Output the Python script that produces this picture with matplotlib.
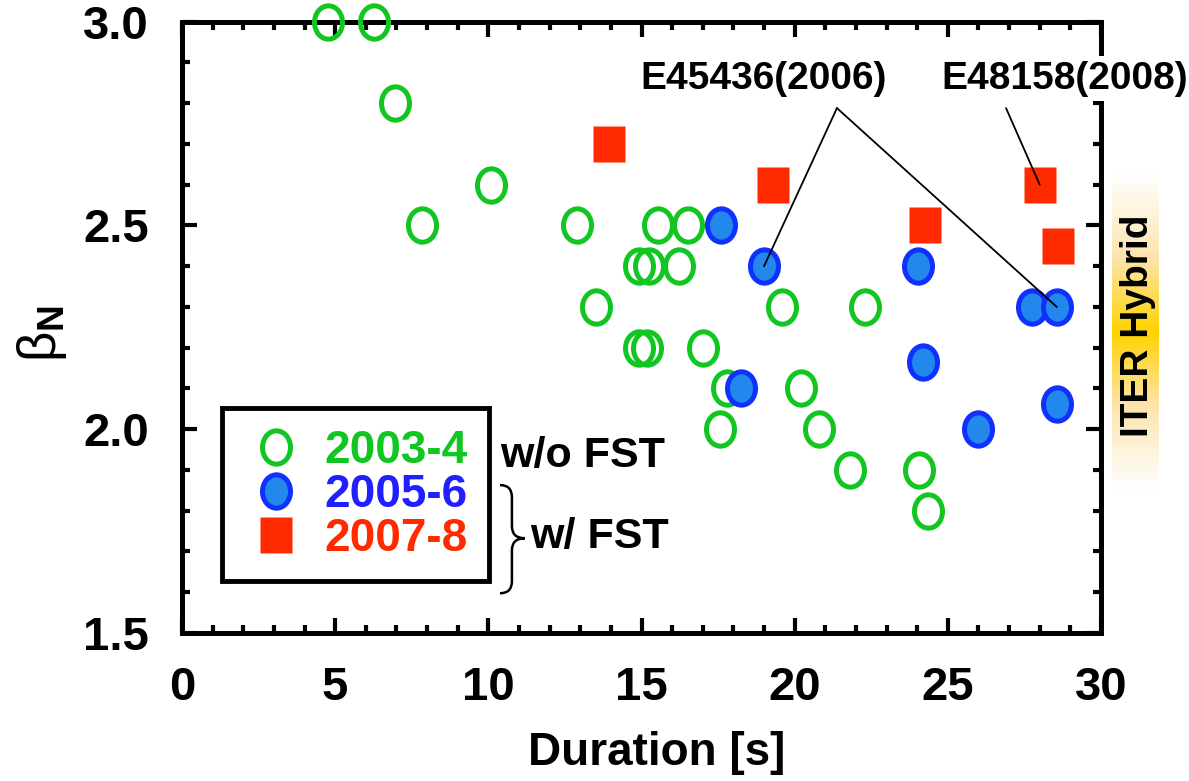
import numpy as np
import matplotlib
matplotlib.use("Agg")
import matplotlib.pyplot as plt
from matplotlib.path import Path
from matplotlib.patches import PathPatch
from matplotlib.lines import Line2D
from matplotlib.colors import LinearSegmentedColormap
from matplotlib.ticker import MultipleLocator, FormatStrFormatter

# data
green_x = [4.76, 6.27, 6.95, 7.84, 10.09, 12.9, 13.5, 14.93, 15.24, 16.22, 15.54, 16.52,
           14.93, 15.18, 17.0, 19.6, 22.3, 17.8, 20.22, 17.57, 20.8, 21.8, 24.06, 24.34]
green_y = [3.0, 3.0, 2.8, 2.5, 2.6, 2.5, 2.3, 2.4, 2.4, 2.4, 2.5, 2.5,
           2.2, 2.2, 2.2, 2.3, 2.3, 2.1, 2.1, 2.0, 2.0, 1.9, 1.9, 1.8]
blue_x = [17.59, 19.0, 24.03, 27.74, 28.56, 24.2, 18.24, 28.57, 26.0]
blue_y = [2.5, 2.4, 2.4, 2.3, 2.3, 2.165, 2.1, 2.062, 2.0]
red_x = [13.95, 19.28, 24.24, 28.0, 28.59]
red_y = [2.7, 2.6, 2.5, 2.6, 2.45]

series_labels = ["2003-4", "2005-6", "2007-8"]
x_ticks = [0, 5, 10, 15, 20, 25, 30]
y_ticks = [1.5, 2.0, 2.5, 3.0]

ann_labels = ["E45436(2006)", "E48158(2008)"]
ann_text_xy = [(18.97, 2.86), (28.83, 2.86)]
ann_apex = [(21.38, 2.788), (26.9, 2.788)]
ann_targets = [[(blue_x[1], blue_y[1]), (blue_x[4], blue_y[4])],
               [(red_x[3], red_y[3])]]

green = "#12c622"
blue_face = "#2288ec"
blue_edge = "#1030ff"
red = "#ff2a00"

plt.rcParams["font.family"] = ["Liberation Sans", "DejaVu Sans"]
plt.rcParams["font.weight"] = "bold"
plt.rcParams["mathtext.fontset"] = "custom"
plt.rcParams["mathtext.rm"] = "Liberation Sans:normal"
plt.rcParams["mathtext.bf"] = "Liberation Sans:bold"

# slightly tall markers, like the original
circ = Path.unit_circle()
ell_path = Path(circ.vertices * np.array([0.84, 1.0]), circ.codes)
sq_path = Path([(-0.88, -1), (0.88, -1), (0.88, 1), (-0.88, 1), (-0.88, -1)],
               [Path.MOVETO, Path.LINETO, Path.LINETO, Path.LINETO, Path.CLOSEPOLY])

fig = plt.figure(figsize=(11.89, 7.81), dpi=100)
ax = fig.add_axes([182 / 1189, 1 - 633 / 781, 919 / 1189, 611.3 / 781])

ms = 24
mew = 3.6
ax.plot(green_x, green_y, linestyle="none", marker=ell_path, ms=ms, mfc="none",
        mec=green, mew=mew, clip_on=False, zorder=3)
ax.plot(blue_x, blue_y, linestyle="none", marker=ell_path, ms=ms, mfc=blue_face,
        mec=blue_edge, mew=mew, clip_on=False, zorder=3.1)
ax.plot(red_x, red_y, linestyle="none", marker=sq_path, ms=ms + 2, mfc=red,
        mec="none", clip_on=False, zorder=3.2)

ax.set_xlim(0, 30)
ax.set_ylim(1.5, 3.0)
ax.set_xticks(x_ticks)
ax.set_yticks(y_ticks)
ax.xaxis.set_minor_locator(MultipleLocator(1))
ax.yaxis.set_minor_locator(MultipleLocator(0.1))
ax.yaxis.set_major_formatter(FormatStrFormatter("%.1f"))
ax.tick_params(which="both", direction="in", top=True, right=True, width=3.0)
ax.tick_params(which="major", length=11, pad=24)
ax.tick_params(which="minor", length=6)
for lab in ax.get_xticklabels() + ax.get_yticklabels():
    lab.set_fontsize(34)
    lab.set_fontweight("bold")
for sp in ax.spines.values():
    sp.set_linewidth(3.6)

ax.set_xlabel("Duration [s]", fontsize=33, fontweight="bold")
ax.xaxis.set_label_coords(0.517, -0.16)
ax.set_ylabel(r"$\mathrm{\beta}_{\mathbf{N}}$", fontsize=38, va="center")
ax.yaxis.set_label_coords(-0.152, 0.49)

# legend
handles = [
    Line2D([], [], linestyle="none", marker=ell_path, ms=ms, mfc="none", mec=green, mew=mew),
    Line2D([], [], linestyle="none", marker=ell_path, ms=ms, mfc=blue_face, mec=blue_edge, mew=mew),
    Line2D([], [], linestyle="none", marker=sq_path, ms=ms + 2, mfc=red, mec="none"),
]
leg = ax.legend(handles, series_labels, loc="upper left", bbox_to_anchor=(0.0435, 0.368),
                borderaxespad=0, fontsize=33, frameon=True, fancybox=False, framealpha=1,
                borderpad=0.45, handlelength=1.44, handletextpad=0.35, labelspacing=0.0)
leg.get_frame().set_edgecolor("black")
leg.get_frame().set_linewidth(3.5)
for txt, col in zip(leg.get_texts(), [green, "#2020ff", red]):
    txt.set_color(col)
    txt.set_fontweight("bold")

# FST notes with brace
ax.text(0.346, 0.2716, "w/o FST", transform=ax.transAxes, fontsize=31,
        fontweight="bold", ha="left", va="baseline")
ax.text(0.3787, 0.139, "w/ FST", transform=ax.transAxes, fontsize=31,
        fontweight="bold", ha="left", va="baseline")
xl, xm, xr = 0.346, 0.359, 0.373
yt, ym, yb = 0.242, 0.155, 0.065
d = 0.02
brace = Path([(xl, yt), (xm, yt), (xm, yt - d), (xm, ym + d), (xm, ym), (xr, ym),
              (xm, ym), (xm, ym - d), (xm, yb + d), (xm, yb), (xl, yb)],
             [Path.MOVETO, Path.CURVE3, Path.CURVE3, Path.LINETO, Path.CURVE3, Path.CURVE3,
              Path.CURVE3, Path.CURVE3, Path.LINETO, Path.CURVE3, Path.CURVE3])
ax.add_patch(PathPatch(brace, transform=ax.transAxes, fill=False, lw=1.8,
                       edgecolor="black", clip_on=False))

# shot annotations
for label, txy, apex, targets in zip(ann_labels, ann_text_xy, ann_apex, ann_targets):
    ax.text(txy[0], txy[1], label, fontsize=28, fontweight="bold", ha="center",
            va="center", zorder=6, clip_on=False,
            bbox=dict(boxstyle="square,pad=0.12", facecolor="white", edgecolor="none"))
    for tx, ty in targets:
        ax.annotate("", xy=(tx, ty), xytext=apex,
                    arrowprops=dict(arrowstyle="-", color="black", lw=1.3,
                                    shrinkA=0, shrinkB=0), zorder=5)

# ITER Hybrid band
band = fig.add_axes([1112 / 1189, 1 - 492 / 781, 47 / 1189, 320 / 781])
cmap = LinearSegmentedColormap.from_list("iter", ["#ffffff", "#fde4ad", "#ffd300"])
t = np.linspace(0, 1, 256)
a = (1 - np.abs(2 * t - 1)) ** 1.1
band.imshow(a[:, None], aspect="auto", cmap=cmap, vmin=0, vmax=1,
            extent=[0, 1, 0, 1], origin="lower")
band.set_xlim(0, 1)
band.set_ylim(0, 1)
band.axis("off")
band.text(0.55, 0.52, "ITER Hybrid", rotation=90, ha="center", va="center",
          fontsize=28, fontweight="bold", transform=band.transAxes)

fig.savefig("out.png", dpi=100)
